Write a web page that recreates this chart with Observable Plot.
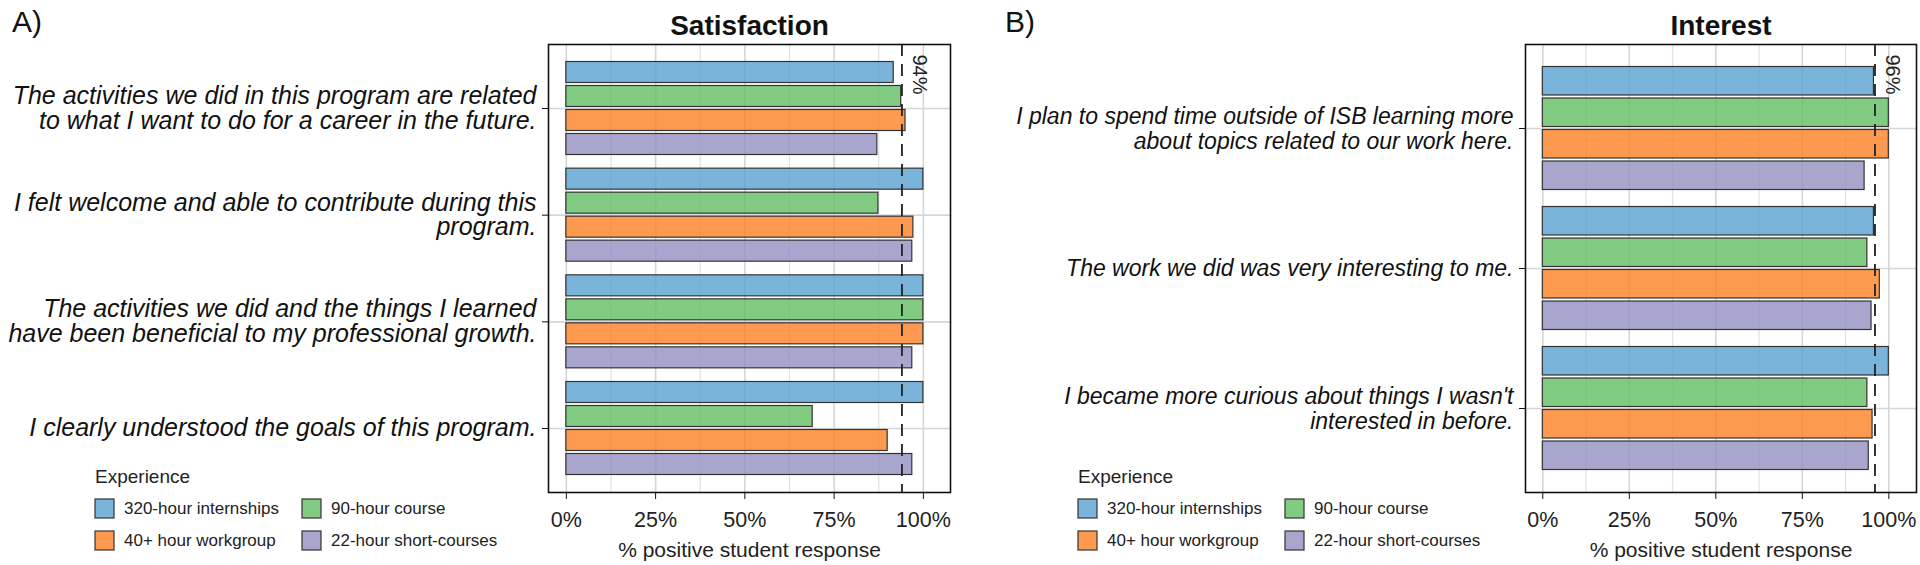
<!DOCTYPE html>
<html><head><meta charset="utf-8">
<script src="https://cdn.jsdelivr.net/npm/d3@7"></script>
<script src="https://cdn.jsdelivr.net/npm/@observablehq/plot@0.6"></script>
<style>
body{margin:0;background:#fff;font-family:"Liberation Sans",Arial,sans-serif;}
#root{position:relative;width:1920px;height:565px;overflow:hidden;background:#fff}
.panel{position:absolute;top:0}
.tag{position:absolute;font-size:30px;line-height:34px;color:#111}
.legtitle{position:absolute;font-size:19px;line-height:22px;color:#222}
.legbox{position:absolute}
.exp-swatches-columns{columns:2 !important;column-gap:0 !important;width:414px !important;margin:0 !important;font-size:17px !important;font-family:"Liberation Sans",Arial,sans-serif !important;color:#222 !important;min-height:0 !important}
.exp-swatch{padding-bottom:13px !important;height:19px !important;display:flex !important;align-items:center !important}
.exp-swatch svg{margin-right:10px !important;overflow:visible !important}
.exp-swatch svg rect{fill-opacity:.8;stroke:#333;stroke-width:1.2}
</style></head><body><div id="root"></div>
<script>
const experiences = ["320-hour internships", "90-hour course", "40+ hour workgroup", "22-hour short-courses"];
const legendOrder = ["320-hour internships", "40+ hour workgroup", "90-hour course", "22-hour short-courses"];
const expColors = ["#59A1D2", "#63BE63", "#FE8124", "#9490C2"];

const satisfactionQuestions = [
  "The activities we did in this program are related\nto what I want to do for a career in the future.",
  "I felt welcome and able to contribute during this\nprogram.",
  "The activities we did and the things I learned\nhave been beneficial to my professional growth.",
  "I clearly understood the goals of this program."
];
const satisfaction320 = [91.7, 100, 100, 100];
const satisfaction90 = [93.8, 87.4, 100, 69];
const satisfaction40 = [95, 97.2, 100, 90];
const satisfaction22 = [87.1, 96.9, 96.9, 96.9];
const satisfactionBenchmark = 94;

const interestQuestions = [
  "I plan to spend time outside of ISB learning more\nabout topics related to our work here.",
  "The work we did was very interesting to me.",
  "I became more curious about things I wasn't\ninterested in before."
];
const interest320 = [95.7, 95.7, 100];
const interest90 = [100, 93.8, 93.8];
const interest40 = [100, 97.4, 95.3];
const interest22 = [93, 95, 94.2];
const interestBenchmark = 96;

const xTicks = [0, 25, 50, 75, 100];
const xMinorTicks = [12.5, 37.5, 62.5, 87.5];
const xTitle = "% positive student response";

function panel({questions, series, benchmark, title, marginLeft, marginRight, xDomain, labelSize, labelLineHeight}) {
  const n = questions.length;
  const w = 0.9 / experiences.length;
  const rows = [];
  questions.forEach((q, i) => experiences.forEach((e, j) => rows.push({
    exp: e, value: series[j][i], y1: i - 0.45 + j * w, y2: i - 0.45 + (j + 1) * w
  })));
  return Plot.plot({
    width: 960, height: 565,
    marginLeft, marginRight, marginTop: 44, marginBottom: 73,
    style: {fontFamily: "Liberation Sans, Arial, sans-serif", color: "#222", background: "transparent", overflow: "visible"},
    x: {domain: xDomain},
    y: {domain: [n - 0.4, -0.6]},
    color: {domain: experiences, range: expColors},
    marks: [
      Plot.gridX(xMinorTicks, {stroke: "#e3e3e3", strokeOpacity: 1, strokeWidth: 1.3}),
      Plot.gridX(xTicks, {stroke: "#d6d6d6", strokeOpacity: 1, strokeWidth: 1.6}),
      Plot.gridY(d3.range(n), {stroke: "#d6d6d6", strokeOpacity: 1, strokeWidth: 1.6}),
      Plot.rectX(rows, {x: "value", y1: "y1", y2: "y2", fill: "exp", fillOpacity: 0.8, stroke: "#333", strokeWidth: 1.2, insetTop: 1.5, insetBottom: 1.5}),
      Plot.ruleX([benchmark], {stroke: "#222", strokeWidth: 1.8, strokeDasharray: "12,8"}),
      Plot.text([benchmark], {x: d => d, text: d => d + "%", frameAnchor: "top", rotate: 90, textAnchor: "start", lineAnchor: "middle", dx: 17, dy: 10, fontSize: 20, fill: "#222"}),
      Plot.frame({stroke: "#111", strokeWidth: 1.6}),
      Plot.axisX({ticks: xTicks, tickFormat: d => d + "%", tickSize: 7, tickPadding: 12, fontSize: 21.5, label: null, stroke: "#111"}),
      Plot.axisY({ticks: d3.range(n), tickFormat: i => questions[i], tickSize: 6, tickPadding: 6, fontSize: labelSize, fontStyle: "italic", lineHeight: labelLineHeight, label: null, stroke: "#111", fill: "#111"}),
      Plot.text([title], {frameAnchor: "top", dy: -10, lineAnchor: "bottom", fontSize: 28, fontWeight: "bold", fill: "#111"}),
      Plot.text([xTitle], {frameAnchor: "bottom", dy: 58, lineAnchor: "middle", fontSize: 21, fill: "#222"})
    ]
  });
}

const root = document.getElementById("root");
function place(el, left, top, cls) {
  const d = document.createElement("div");
  d.className = cls; d.style.left = left + "px"; d.style.top = top + "px";
  d.append(el); root.append(d); return d;
}
function legend() {
  return Plot.legend({
    color: {type: "ordinal", domain: legendOrder, range: legendOrder.map(e => expColors[experiences.indexOf(e)])},
    legend: "swatches", columns: 2, swatchSize: 19, className: "exp", label: null
  });
}

place(panel({questions: satisfactionQuestions, series: [satisfaction320, satisfaction90, satisfaction40, satisfaction22],
  benchmark: satisfactionBenchmark, title: "Satisfaction", marginLeft: 548, marginRight: 10, xDomain: [-5, 107.6],
  labelSize: 25, labelLineHeight: 0.98}), 0, 0, "panel");
place(panel({questions: interestQuestions, series: [interest320, interest90, interest40, interest22],
  benchmark: interestBenchmark, title: "Interest", marginLeft: 565, marginRight: 4, xDomain: [-5, 108],
  labelSize: 23, labelLineHeight: 1.07}), 960, 0, "panel");

place(document.createTextNode("A)"), 12, 5, "tag");
place(document.createTextNode("B)"), 1005, 5, "tag");
place(document.createTextNode("Experience"), 95, 466, "legtitle");
place(document.createTextNode("Experience"), 1078, 466, "legtitle");
place(legend(), 95, 499, "legbox");
place(legend(), 1078, 499, "legbox");
</script></body></html>
